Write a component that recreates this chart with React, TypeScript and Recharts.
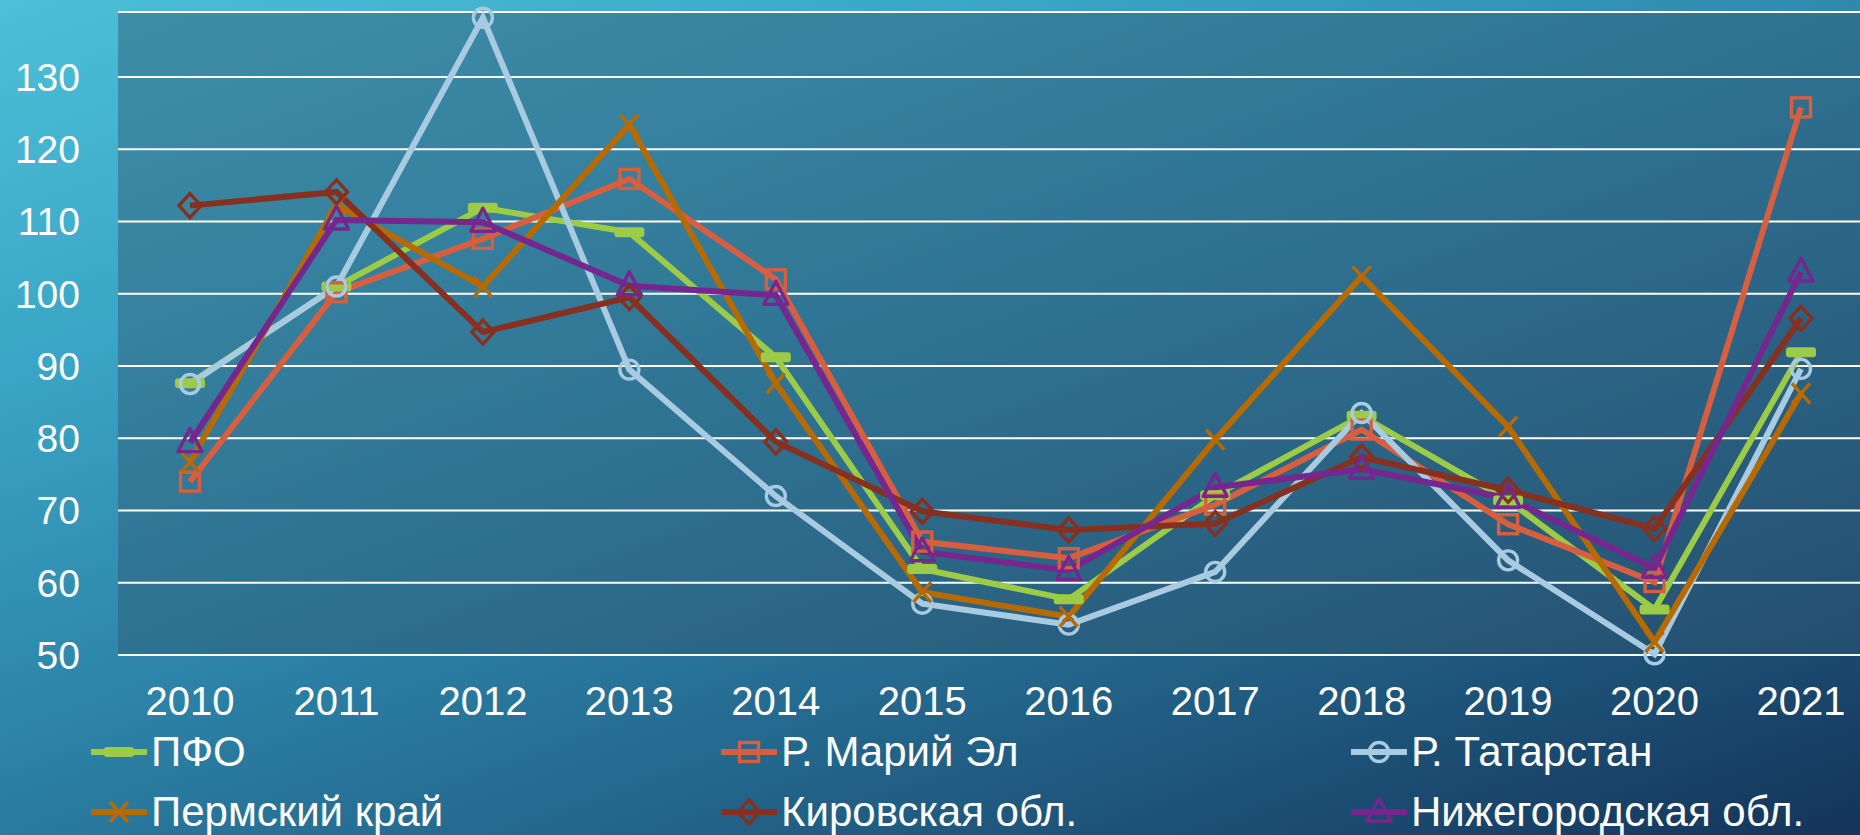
import { LineChart, Line, XAxis, YAxis, CartesianGrid } from "recharts";

const years = ["2010", "2011", "2012", "2013", "2014", "2015", "2016", "2017", "2018", "2019", "2020", "2021"];
const pfo = [87.6, 101.0, 111.9, 108.5, 91.2, 61.9, 57.7, 72.1, 83.1, 71.4, 56.3, 91.9];
const mariyEl = [74.0, 100.2, 107.6, 115.9, 102.0, 65.7, 63.4, 70.8, 81.2, 68.1, 60.1, 125.8];
const tatarstan = [87.5, 101.0, 138.2, 89.5, 72.0, 57.1, 54.2, 61.5, 83.5, 63.1, 50.1, 89.6];
const perm = [76.7, 112.3, 101.0, 123.4, 87.6, 58.7, 55.3, 79.8, 102.4, 81.6, 51.8, 86.2];
const kirov = [112.2, 114.1, 94.7, 99.5, 79.5, 69.9, 67.3, 68.2, 77.4, 72.8, 67.5, 96.6];
const nizhny = [79.4, 110.2, 109.9, 101.1, 99.8, 64.3, 61.7, 73.2, 75.7, 71.7, 62.0, 103.0];
const yTicks = [50, 60, 70, 80, 90, 100, 110, 120, 130];

type Kind = "bar" | "square" | "circle" | "x" | "diamond" | "triangle";

const series: { key: string; name: string; values: number[]; color: string; kind: Kind }[] = [
  { key: "pfo", name: "ПФО", values: pfo, color: "#9ccb48", kind: "bar" },
  { key: "mariyEl", name: "Р. Марий Эл", values: mariyEl, color: "#d75e3f", kind: "square" },
  { key: "tatarstan", name: "Р. Татарстан", values: tatarstan, color: "#a8cbe2", kind: "circle" },
  { key: "perm", name: "Пермский край", values: perm, color: "#b86a02", kind: "x" },
  { key: "kirov", name: "Кировская обл.", values: kirov, color: "#87301f", kind: "diamond" },
  { key: "nizhny", name: "Нижегородская обл.", values: nizhny, color: "#76268f", kind: "triangle" },
];

const rows = years.map((year, i) => {
  const row: Record<string, any> = { year };
  series.forEach((s) => (row[s.key] = s.values[i]));
  return row;
});

const font = "'Liberation Sans', Arial, sans-serif";

function Marker({ kind, cx, cy, color }: { kind: Kind; cx: number; cy: number; color: string }) {
  const sw = 3.4;
  switch (kind) {
    case "bar":
      return <rect x={cx - 15} y={cy - 5} width={30} height={10} rx={3} fill={color} />;
    case "square":
      return <rect x={cx - 9.5} y={cy - 9.5} width={19} height={19} fill="none" stroke={color} strokeWidth={sw} />;
    case "circle":
      return <circle cx={cx} cy={cy} r={9.5} fill="none" stroke={color} strokeWidth={sw} />;
    case "x":
      return (
        <path
          d={`M${cx - 9},${cy - 10}L${cx + 9},${cy + 10}M${cx + 9},${cy - 10}L${cx - 9},${cy + 10}`}
          stroke={color}
          strokeWidth={sw}
          fill="none"
        />
      );
    case "diamond":
      return (
        <path
          d={`M${cx},${cy - 12}L${cx + 11},${cy}L${cx},${cy + 12}L${cx - 11},${cy}Z`}
          fill="none"
          stroke={color}
          strokeWidth={sw}
        />
      );
    case "triangle":
      return (
        <path
          d={`M${cx},${cy - 14}L${cx + 12},${cy + 9}L${cx - 12},${cy + 9}Z`}
          fill="none"
          stroke={color}
          strokeWidth={sw}
          strokeLinejoin="round"
        />
      );
  }
}

function LegendBlock() {
  return (
    <div style={{ position: "absolute", left: 91, top: 722, display: "grid", gridTemplateColumns: "630px 630px 500px" }}>
      {series.map((s) => (
        <div key={s.key} style={{ display: "flex", alignItems: "center", height: 60 }}>
          <svg width={56} height={30} style={{ marginRight: 4 }}>
            <line x1={0} y1={15} x2={56} y2={15} stroke={s.color} strokeWidth={6} strokeLinecap="round" />
            <Marker kind={s.kind} cx={28} cy={15} color={s.color} />
          </svg>
          <span style={{ color: "#fff", fontSize: 42, fontFamily: font, lineHeight: "60px" }}>{s.name}</span>
        </div>
      ))}
    </div>
  );
}

export default function App() {
  return (
    <div
      style={{
        position: "fixed",
        left: 0,
        top: 0,
        width: 1860,
        height: 835,
        overflow: "hidden",
        background: "linear-gradient(160deg, #4cc0d8 0%, #3aa5c6 25%, #2c82a7 50%, #215d83 75%, #14345a 100%)",
      }}
    >
      <LineChart width={1860} height={835} data={rows} margin={{ top: 12, right: 0, bottom: 0, left: 0 }}>
        <CartesianGrid vertical={false} stroke="#ffffff" strokeWidth={2} fill="rgb(48,86,112)" fillOpacity={0.45} />
        <XAxis
          dataKey="year"
          height={180}
          interval={0}
          padding={{ left: 72, right: 59 }}
          axisLine={false}
          tickLine={false}
          tickSize={0}
          tickMargin={32}
          tick={{ fill: "#fff", fontSize: 40, fontFamily: font }}
        />
        <YAxis
          width={118}
          domain={[50, 139]}
          ticks={yTicks}
          axisLine={false}
          tickLine={false}
          tickSize={0}
          tickMargin={38}
          tick={{ fill: "#fff", fontSize: 39, fontFamily: font }}
        />
        {series.map((s) => (
          <Line
            key={s.key}
            dataKey={s.key}
            name={s.name}
            stroke={s.color}
            strokeWidth={6}
            isAnimationActive={false}
            dot={(p: any) => <Marker key={`${s.key}-${p.index}`} kind={s.kind} cx={p.cx} cy={p.cy} color={s.color} />}
          />
        ))}
      </LineChart>
      <LegendBlock />
    </div>
  );
}
